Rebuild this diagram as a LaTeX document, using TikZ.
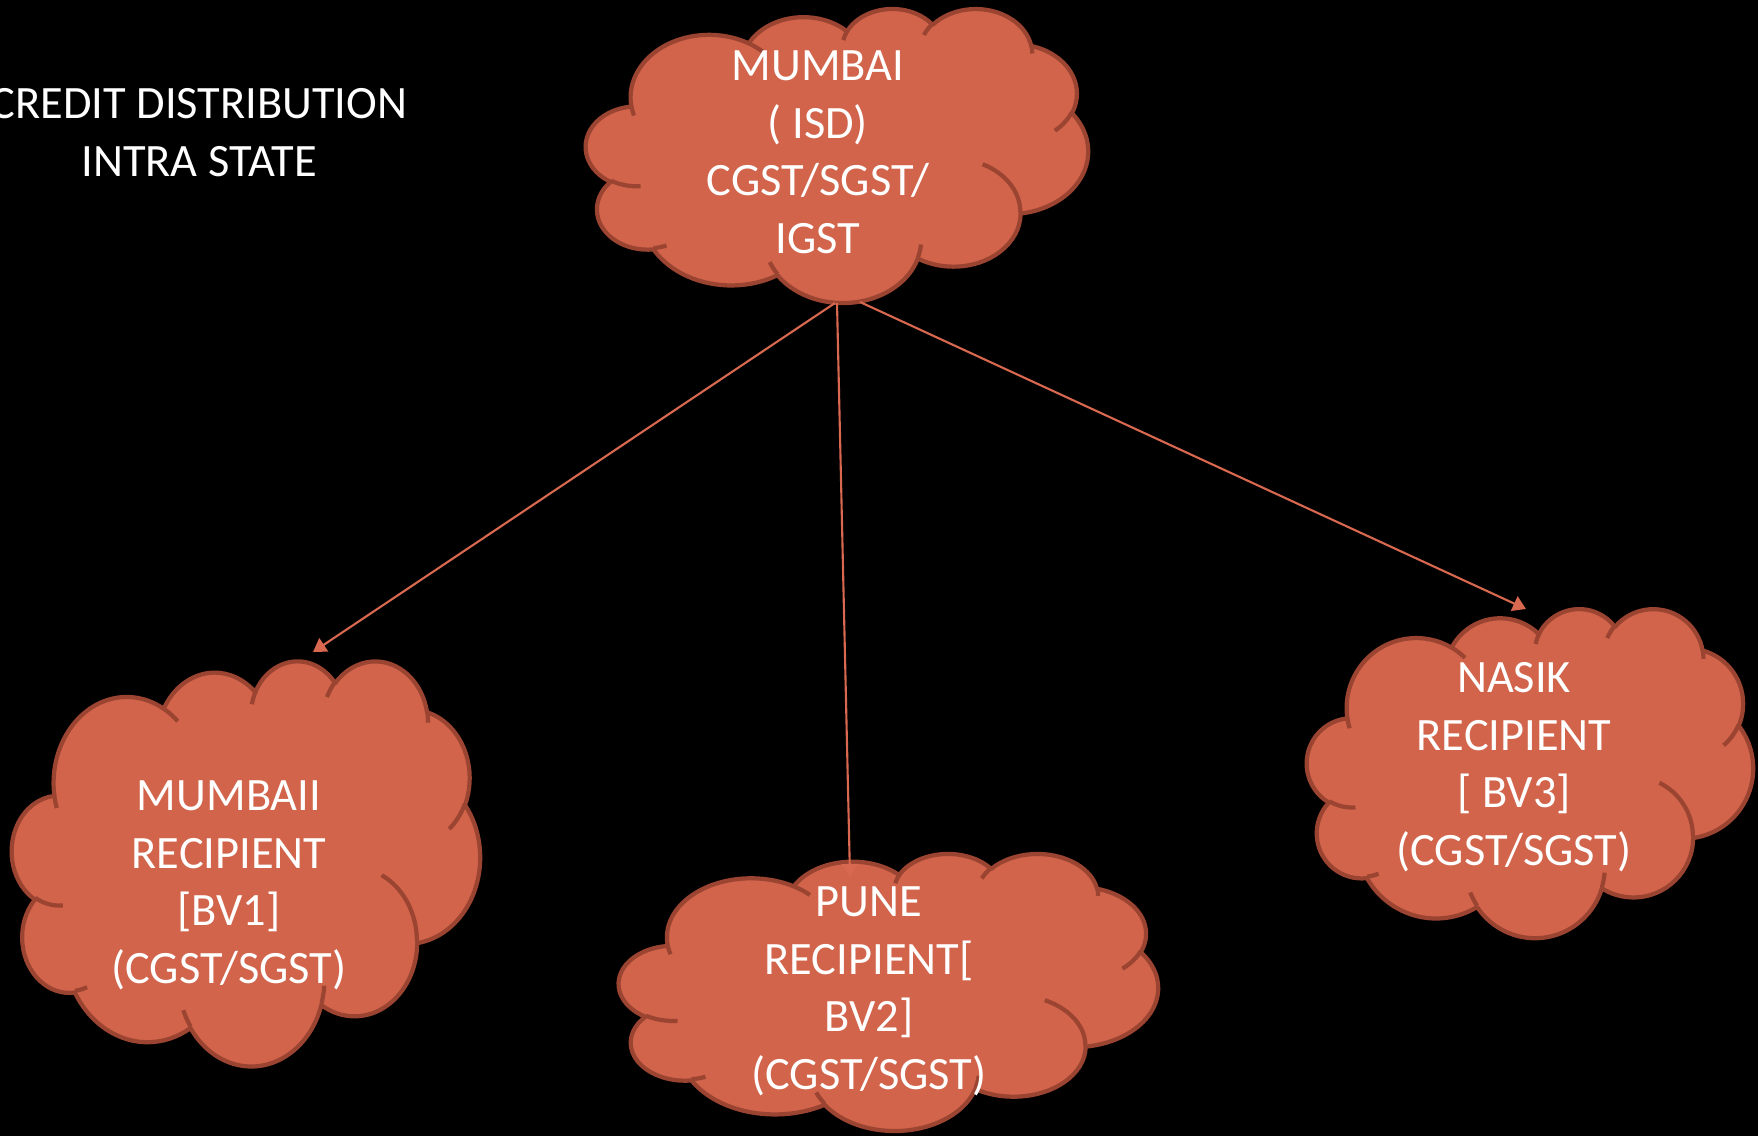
\documentclass[tikz,border=0pt]{standalone}
\usepackage{fontspec}
\setmainfont{Carlito}
\usetikzlibrary{arrows.meta}
\definecolor{cloudfill}{RGB}{209,100,74}
\definecolor{cloudline}{RGB}{155,68,50}
\definecolor{arrowcol}{RGB}{216,104,79}
% elliptical arc given DrawingML-style (visual start angle, sweep)
\newcommand\carc[4]{arc[x radius=#1, y radius=#2, start angle={cang(#3,#1,#2)}, delta angle={mod(cang(#3+#4,#1,#2)-cang(#3,#1,#2)+720,360)}]}
\newcommand\cloudoutline{(0.090278,0.332639)
 \carc{0.156319}{0.212731}{-190.4875}{123.7805}
 \carc{0.123449}{0.168218}{-144.1024}{89.9452}
 \carc{0.101042}{0.137616}{-145.8079}{99.7230}
 \carc{0.112431}{0.152662}{-130.9861}{117.2417}
 \carc{0.123449}{0.168356}{-78.7089}{109.0269}
 \carc{0.156829}{0.213426}{-46.2673}{130.2690}
 \carc{0.133912}{0.182106}{0.6250}{114.0333}
 \carc{0.156296}{0.213310}{22.4516}{115.1726}
 \carc{0.178704}{0.244051}{66.2426}{75.7110}
 \carc{0.100926}{0.136991}{-274.9421}{146.7356}
 \carc{0.100579}{0.137616}{-246.8285}{152.5189}
 -- cycle}
\newcommand\cloudinner{(0.108634,0.605949) \carc{0.100579}{0.137616}{86.7420}{26.4295}
 (0.160370,0.807847) \carc{0.100926}{0.136991}{73.6105}{11.4475}
 (0.381435,0.904861) \carc{0.156296}{0.213310}{137.6242}{14.0811}
 (0.667292,0.804421) \carc{0.156296}{0.213310}{6.4533}{15.9984}
 (0.790023,0.531343) \carc{0.133912}{0.182106}{-70.2924}{70.9174}
 (0.967546,0.355417) \carc{0.123449}{0.168356}{30.3180}{27.7515}
 (0.887130,0.125602) \carc{0.112431}{0.152662}{-13.7443}{14.8589}
 (0.673102,0.091481) \carc{0.112431}{0.152662}{-149.1815}{18.1954}
 (0.512523,0.109259) \carc{0.101042}{0.137616}{-163.4943}{17.6864}
 (0.324074,0.120185) \carc{0.156319}{0.212731}{-66.7070}{12.3194}
 (0.095532,0.365486) \carc{0.156319}{0.212731}{157.6544}{11.8582}}
% #1 left x (cm), #2 top y (cm), #3 width, #4 height
\newcommand\pptcloud[4]{%
 \begin{scope}[shift={(#1,#2)}, xscale=#3, yscale=-#4]
  \path[cloudshape] \cloudoutline;
  \path[cloudinnerline] \cloudinner;
 \end{scope}}
\begin{document}
\begin{tikzpicture}[
  declare function={cang(\a,\w,\h)=atan2(\w*sin(\a),\h*cos(\a));},
  cloudshape/.style={fill=cloudfill, draw=cloudline, line width=1.2pt, line join=round},
  cloudinnerline/.style={draw=cloudline, line width=1.2pt},
  txt/.style={text=white, font=\fontsize{13.2}{16.36}\selectfont, align=center, inner sep=0pt, anchor=north},
  conn/.style={draw=arrowcol, line width=0.6pt, -{Triangle[length=3.7pt, width=4.5pt]}}
]
\fill[black] (0,0) rectangle (17.58,11.36);
\useasboundingbox (0,0) rectangle (17.58,11.36);
\clip (0,0) rectangle (17.58,11.36);

% clouds
\pptcloud{5.86}{11.28}{5.02}{2.94}
\pptcloud{0.12}{4.76}{4.68}{4.05}
\pptcloud{13.07}{5.28}{4.46}{3.29}
\pptcloud{6.19}{2.83}{5.39}{2.77}

% connector end points
\coordinate (isdA) at (8.35,8.33);
\coordinate (isdB) at (8.37,8.33);
\coordinate (isdC) at (8.60,8.34);
\coordinate (bvonein) at (3.13,4.84);
\coordinate (bvtwoin) at (8.50,2.59);
\coordinate (bvthreein) at (15.26,5.27);

\draw[conn] (isdA) -- (bvonein);
\draw[conn] (isdB) -- (bvtwoin);
\draw[conn] (isdC) -- (bvthreein);

% texts
\node[txt] (title) at (1.99,10.602) {\rule{0pt}{12pt}CREDIT DISTRIBUTION\\INTRA STATE};
\node[txt] (isd) at (8.18,10.982) {\rule{0pt}{12pt}MUMBAI\\( ISD)\\CGST/SGST/\\IGST};
\node[txt] (bvone) at (2.29,3.682) {\rule{0pt}{12pt}MUMBAII\\RECIPIENT\\{[BV1]}\\(CGST/SGST)};
\node[txt] (bvthree) at (15.14,4.862) {\rule{0pt}{12pt}NASIK\\RECIPIENT\\{[ BV3]}\\(CGST/SGST)};
\node[txt] (bvtwo) at (8.69,2.622) {\rule{0pt}{12pt}PUNE\\RECIPIENT{[}\\BV2{]}\\(CGST/SGST)};
\end{tikzpicture}
\end{document}
